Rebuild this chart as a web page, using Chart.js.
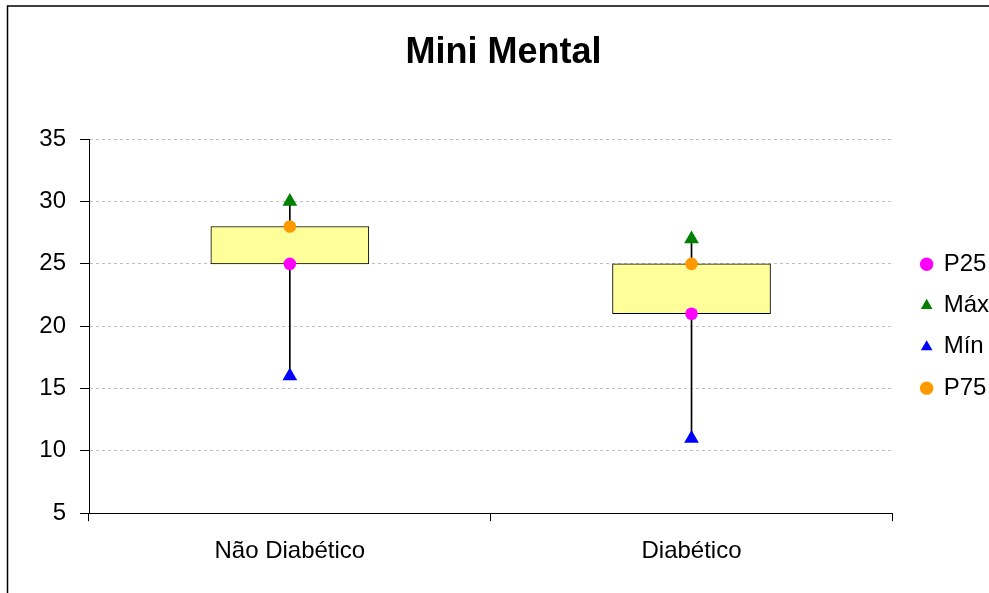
<!DOCTYPE html>
<html>
<head>
<meta charset="utf-8">
<title>Mini Mental</title>
<script src="https://cdn.jsdelivr.net/npm/chart.js@4/dist/chart.umd.min.js"></script>
<style>
  html, body { margin: 0; padding: 0; background: #fff; }
  #wrap { width: 989px; height: 593px; position: relative; }
</style>
</head>
<body>
<div id="wrap"><canvas id="chart1" width="989" height="593"></canvas></div>
<script>
// Dados
const categorias = ['Não Diabético', 'Diabético'];
const p25  = [25, 21];
const p75  = [28, 25];
const maxi = [30, 27];
const mini = [16, 11];
const yTicks = [5, 10, 15, 20, 25, 30, 35];

// Cores
const C_P25  = '#ff00ff';
const C_MAX  = '#008000';
const C_MIN  = '#0000ff';
const C_P75  = '#ff9900';
const C_BOX  = '#ffff99';
const C_GRID = '#c0c0c0';

Chart.defaults.font.family = "'Liberation Sans', Arial, sans-serif";
Chart.defaults.font.size = 24;
Chart.defaults.color = '#000';

// moldura externa (como no Excel)
const frame = {
    id: 'frame',
    beforeDraw(chart) {
        const ctx = chart.ctx;
        ctx.save();
        ctx.fillStyle = '#fff';
        ctx.fillRect(0, 0, chart.width, chart.height);
        ctx.strokeStyle = '#000';
        ctx.lineWidth = 1.5;
        ctx.strokeRect(7.5, 6, 1200, 1200);
        ctx.restore();
    }
};

const marcador = (label, data, cor, estilo, raio) => ({
    type: 'line',
    label: label,
    data: data,
    showLine: false,
    pointStyle: estilo,
    pointRadius: raio,
    pointBackgroundColor: cor,
    pointBorderColor: cor,
    pointBorderWidth: 0,
    backgroundColor: cor,
    borderColor: cor
});

new Chart(document.getElementById('chart1'), {
    type: 'bar',
    data: {
        labels: categorias,
        datasets: [
            marcador('P25', p25, C_P25, 'circle', 6.3),
            marcador('Máx', maxi, C_MAX, 'triangle', 8.5),
            marcador('Mín', mini, C_MIN, 'triangle', 8.5),
            marcador('P75', p75, C_P75, 'circle', 6.3),
            {   // caixa P25-P75
                label: 'box',
                data: p25.map((v, i) => [v, p75[i]]),
                backgroundColor: C_BOX,
                borderColor: '#000',
                borderWidth: 1,
                borderSkipped: false,
                barThickness: 158,
                grouped: false
            },
            {   // linha min-max
                label: 'whisker',
                data: mini.map((v, i) => [v, maxi[i]]),
                backgroundColor: '#000',
                borderWidth: 0,
                barThickness: 1,
                grouped: false
            }
        ]
    },
    options: {
        responsive: false,
        animation: false,
        layout: { padding: { left: 8, right: -10, top: 0, bottom: 11 } },
        plugins: {
            title: {
                display: true,
                text: 'Mini Mental',
                font: { size: 36, weight: 'bold' },
                color: '#000',
                padding: { top: 31.5, bottom: 64.5 }
            },
            legend: {
                position: 'right',
                fullSize: false,
                labels: {
                    usePointStyle: true,
                    boxWidth: 10,
                    boxHeight: 9.5,
                    padding: 17.3,
                    color: '#000',
                    font: { size: 24 },
                    filter: (item) => item.text !== 'box' && item.text !== 'whisker'
                }
            },
            tooltip: { enabled: false }
        },
        scales: {
            x: {
                offset: true,
                grid: { display: true, drawOnChartArea: false, offset: true, tickLength: 8, tickColor: '#000', tickWidth: 1 },
                border: { color: '#000', width: 1 },
                ticks: { padding: 16, color: '#000', font: { size: 24 } }
            },
            y: {
                min: 5,
                max: 35,
                afterFit: (s) => { s.width = 81; },
                afterBuildTicks: (s) => { s.ticks = yTicks.map(v => ({ value: v })); },
                grid: { color: C_GRID, tickColor: '#000', tickLength: 9, tickBorderDash: [] },
                border: { color: '#000', width: 1, dash: [3, 3] },
                ticks: { padding: 14, color: '#000', font: { size: 24 } }
            },
            yDummy: {
                position: 'right',
                display: true,
                afterFit: (s) => { s.width = 12; },
                grid: { display: false },
                border: { display: false },
                ticks: { display: false }
            }
        }
    },
    plugins: [frame]
});
</script>
</body>
</html>
